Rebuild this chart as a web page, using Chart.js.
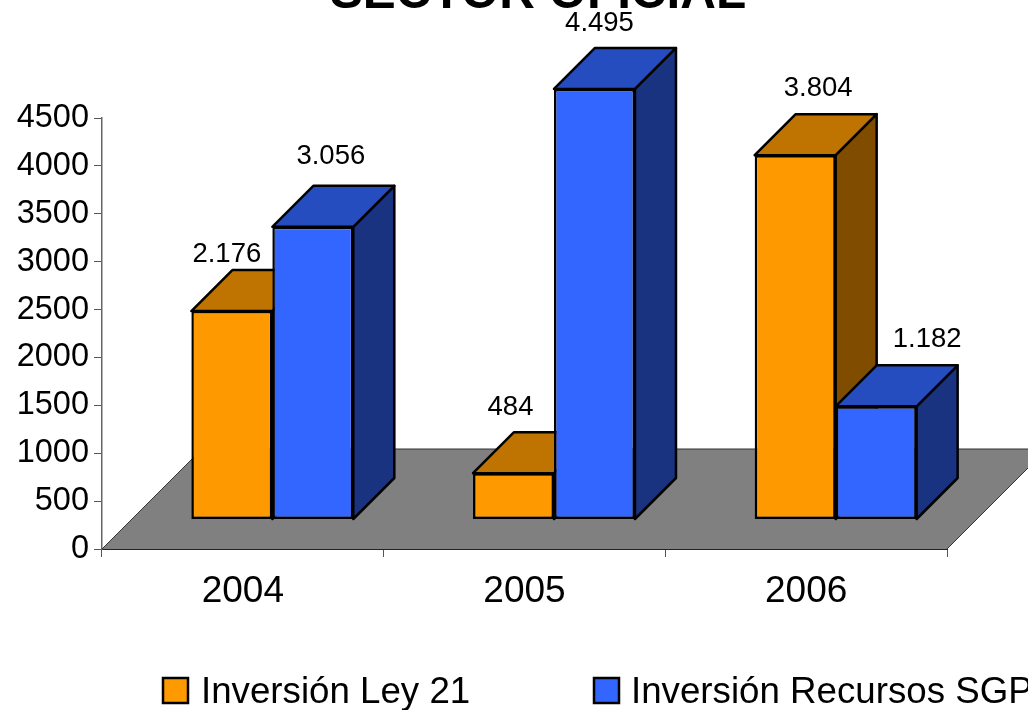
<!DOCTYPE html>
<html>
<head>
<meta charset="utf-8">
<style>html,body{margin:0;padding:0;background:#fff;overflow:hidden}canvas{display:block}</style>
<script src="https://cdn.jsdelivr.net/npm/chart.js@4"></script>
</head>
<body>
<canvas id="c" width="1028" height="710"></canvas>
<script>
const categories = ['2004', '2005', '2006'];
const ley21 = [2176, 484, 3804];
const recursosSGP = [3056, 4495, 1182];
const seriesNames = ['Inversión Ley 21', 'Inversión Recursos SGP'];
const chartTitle = 'SECTOR OFICIAL';

const FONT = '"Liberation Sans", Arial, sans-serif';
const SHIFT = {x: 29.5, y: -29.5};
const DEPTH = 41;
const FLOOR = 100;
const shades = [
  {front: '#FF9900', top: '#BF7300', side: '#7F4C00'},
  {front: '#3366FF', top: '#264DBF', side: '#1A3380'}
];
const labelOffsets = [
  [[-5, -49.5], [-3, -58.5], [23, -59.5]],
  [[18, -62.5], [5, -57.5], [51, -59.5]]
];
const fmt = v => String(v).replace(/\B(?=(\d{3})+$)/g, '.');

function poly(ctx, pts, fill, stroke, lw) {
  ctx.beginPath();
  pts.forEach((p, i) => i ? ctx.lineTo(p[0], p[1]) : ctx.moveTo(p[0], p[1]));
  ctx.closePath();
  ctx.fillStyle = fill;
  ctx.fill();
  if (stroke) {
    ctx.strokeStyle = stroke;
    ctx.lineWidth = lw;
    ctx.lineJoin = 'round';
    ctx.stroke();
  }
}

const scene3d = {
  id: 'scene3d',
  beforeDatasetsDraw(chart) {
    const {ctx, chartArea: a} = chart;
    ctx.save();
    poly(ctx, [[a.left, a.bottom], [a.right, a.bottom], [a.right + FLOOR, a.bottom - FLOOR], [a.left + FLOOR, a.bottom - FLOOR]], '#808080');
    ctx.strokeStyle = '#333';
    ctx.lineWidth = 1;
    ctx.beginPath();
    ctx.moveTo(a.left, a.bottom);
    ctx.lineTo(a.left + FLOOR, a.bottom - FLOOR);
    ctx.lineTo(a.right + FLOOR, a.bottom - FLOOR);
    ctx.lineTo(a.right, a.bottom);
    ctx.stroke();
    ctx.restore();

    // the back-to-front order of a 3-D bar pair: first series, then second
    chart.data.datasets.forEach((ds, i) => {
      const s = shades[i];
      const meta = chart.getDatasetMeta(i);
      ctx.save();
      ctx.translate(SHIFT.x, SHIFT.y);
      meta.data.forEach(b => {
        const l = b.x - b.width / 2, r = b.x + b.width / 2, t = b.y, base = b.base;
        poly(ctx, [[r, t], [r + DEPTH, t - DEPTH], [r + DEPTH, base - DEPTH], [r, base]], s.side, '#000', 2.5);
        poly(ctx, [[l, t], [l + DEPTH, t - DEPTH], [r + DEPTH, t - DEPTH], [r, t]], s.top, '#000', 2.5);
      });
      meta.controller.draw();
      ctx.restore();
    });

    ctx.save();
    ctx.fillStyle = '#000';
    ctx.textAlign = 'center';
    ctx.textBaseline = 'alphabetic';
    ctx.font = '27.5px ' + FONT;
    chart.data.datasets.forEach((ds, i) => {
      chart.getDatasetMeta(i).data.forEach((b, j) => {
        const o = labelOffsets[i][j];
        ctx.fillText(fmt(ds.data[j]), b.x + SHIFT.x + o[0], b.y + SHIFT.y + o[1]);
      });
    });
    ctx.restore();
    return false;
  },
  afterDraw(chart) {
    const {ctx} = chart;
    ctx.save();
    ctx.fillStyle = '#000';
    ctx.textBaseline = 'alphabetic';
    ctx.textAlign = 'center';
    ctx.font = 'bold 49.4px ' + FONT;
    ctx.fillText(chartTitle, 538, 8);
    ctx.textAlign = 'left';
    ctx.font = '36.7px ' + FONT;
    [[163, 201], [594, 631]].forEach((x, i) => {
      ctx.fillStyle = shades[i].front;
      ctx.strokeStyle = '#000';
      ctx.lineWidth = 2.5;
      ctx.fillRect(x[0], 678, 25, 25);
      ctx.strokeRect(x[0], 678, 25, 25);
      ctx.fillStyle = '#000';
      ctx.fillText(seriesNames[i], x[1], 703);
    });
    ctx.restore();
  }
};

new Chart(document.getElementById('c'), {
  type: 'bar',
  data: {
    labels: categories,
    datasets: [ley21, recursosSGP].map((d, i) => ({
      label: seriesNames[i],
      data: d,
      backgroundColor: shades[i].front,
      borderColor: '#000',
      borderWidth: 2.5,
      borderSkipped: false
    }))
  },
  options: {
    responsive: false,
    animation: false,
    events: [],
    devicePixelRatio: 1,
    layout: {padding: {top: 118, right: 81, left: 0, bottom: 0}},
    datasets: {bar: {categoryPercentage: 0.575, barPercentage: 1}},
    plugins: {legend: {display: false}, title: {display: false}, tooltip: {enabled: false}},
    scales: {
      x: {
        afterFit(s) { s.height = 161; },
        border: {color: '#222', width: 1},
        grid: {display: true, drawOnChartArea: false, drawTicks: true, tickLength: 8, color: '#555', offset: true},
        ticks: {color: '#000', font: {family: FONT, size: 37}, padding: 13, maxRotation: 0}
      },
      y: {
        min: 0,
        max: 4500,
        afterFit(s) { s.width = 102; },
        border: {color: '#666', width: 1.5},
        grid: {display: true, drawOnChartArea: false, drawTicks: true, tickLength: 8, color: '#555'},
        ticks: {stepSize: 500, color: '#000', font: {family: FONT, size: 32.5}, padding: 5, callback: v => String(v)}
      }
    }
  },
  plugins: [scene3d]
});
</script>
</body>
</html>
